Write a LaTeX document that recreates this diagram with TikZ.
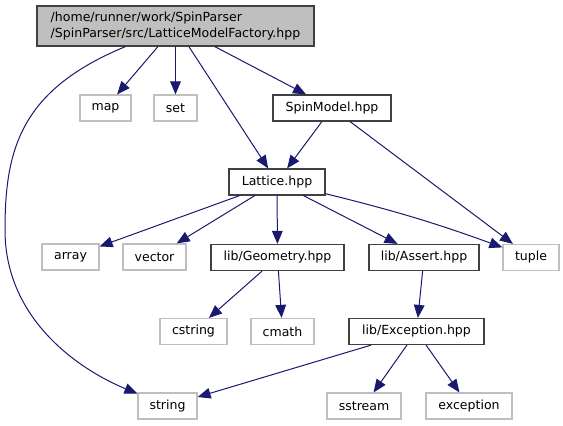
\documentclass[tikz,border=0pt]{standalone}
\usepackage{fontspec}
\setmainfont{DejaVu Sans}
\usetikzlibrary{arrows.meta}
\definecolor{edgeblue}{HTML}{191970}
\definecolor{sysgray}{HTML}{BFBFBF}
\definecolor{hdrgray}{HTML}{BFBFBF}
\definecolor{boxline}{HTML}{404040}

\begin{document}
\begin{tikzpicture}[
  x=0.75pt,y=-0.75pt,
  every node/.style={draw,line width=0.9pt,inner sep=0pt,minimum height=19.5pt,font=\fontsize{9.4}{12}\selectfont,align=center},
  hdr/.style={fill=hdrgray,draw=boxline,minimum height=30pt,align=left},
  inc/.style={draw=boxline},
  sys/.style={draw=sysgray},
  dep/.style={draw=edgeblue,line width=0.75pt,-{Triangle[length=9.75pt,width=8pt]}}
]
\useasboundingbox (0,0) rectangle (563,425);

% file nodes
\node[hdr,minimum width=207.75pt] (factory) at (175.5,26) {/home/runner/work/SpinParser\\/SpinParser/src/LatticeModelFactory.hpp};
\node[sys,minimum width=38.25pt] (map) at (105.5,108) {map};
\node[sys,minimum width=32.25pt] (set) at (175.5,108) {set};
\node[inc,minimum width=88.5pt] (spinmodel) at (332,108) {SpinModel.hpp};
\node[inc,minimum width=72pt] (lattice) at (277,182) {Lattice.hpp};
\node[sys,minimum width=42.75pt] (array) at (70.5,257) {array};
\node[sys,minimum width=47.25pt] (vector) at (154.5,257) {vector};
\node[inc,minimum width=99.75pt] (geometry) at (277.5,257.5) {lib/Geometry.hpp};
\node[inc,minimum width=82.5pt] (assert) at (424,257.5) {lib/Assert.hpp};
\node[sys,minimum width=42pt] (tuple) at (531,257.5) {tuple};
\node[sys,minimum width=50.25pt] (cstring) at (193.5,331.5) {cstring};
\node[sys,minimum width=47.25pt] (cmath) at (282.5,331.5) {cmath};
\node[inc,minimum width=101.25pt] (exceptionhpp) at (416.5,331.5) {lib/Exception.hpp};
\node[sys,minimum width=44.25pt] (string) at (167.5,406) {string};
\node[sys,minimum width=55.5pt] (sstream) at (364,406) {sstream};
\node[sys,minimum width=64.5pt] (exception) at (469,406) {exception};

% includes
\draw[dep] (factory) -- (map);
\draw[dep] (factory) -- (set);
\draw[dep] (factory) -- (lattice);
\draw[dep] (factory) -- (spinmodel);
\draw[dep] (factory) .. controls (20,90) and (5,150) .. (5,230)
  .. controls (5,320) and (80,370) .. (string);
\draw[dep] (spinmodel) -- (lattice);
\draw[dep] (spinmodel) -- (tuple);
\draw[dep] (lattice) -- (array);
\draw[dep] (lattice) -- (vector);
\draw[dep] (lattice) -- (geometry);
\draw[dep] (lattice) -- (assert);
\draw[dep] (lattice) to[bend left=3] (tuple);
\draw[dep] (geometry) -- (cstring);
\draw[dep] (geometry) -- (cmath);
\draw[dep] (assert) -- (exceptionhpp);
\draw[dep] (exceptionhpp) -- (string);
\draw[dep] (exceptionhpp) -- (sstream);
\draw[dep] (exceptionhpp) -- (exception);
\end{tikzpicture}
\end{document}
